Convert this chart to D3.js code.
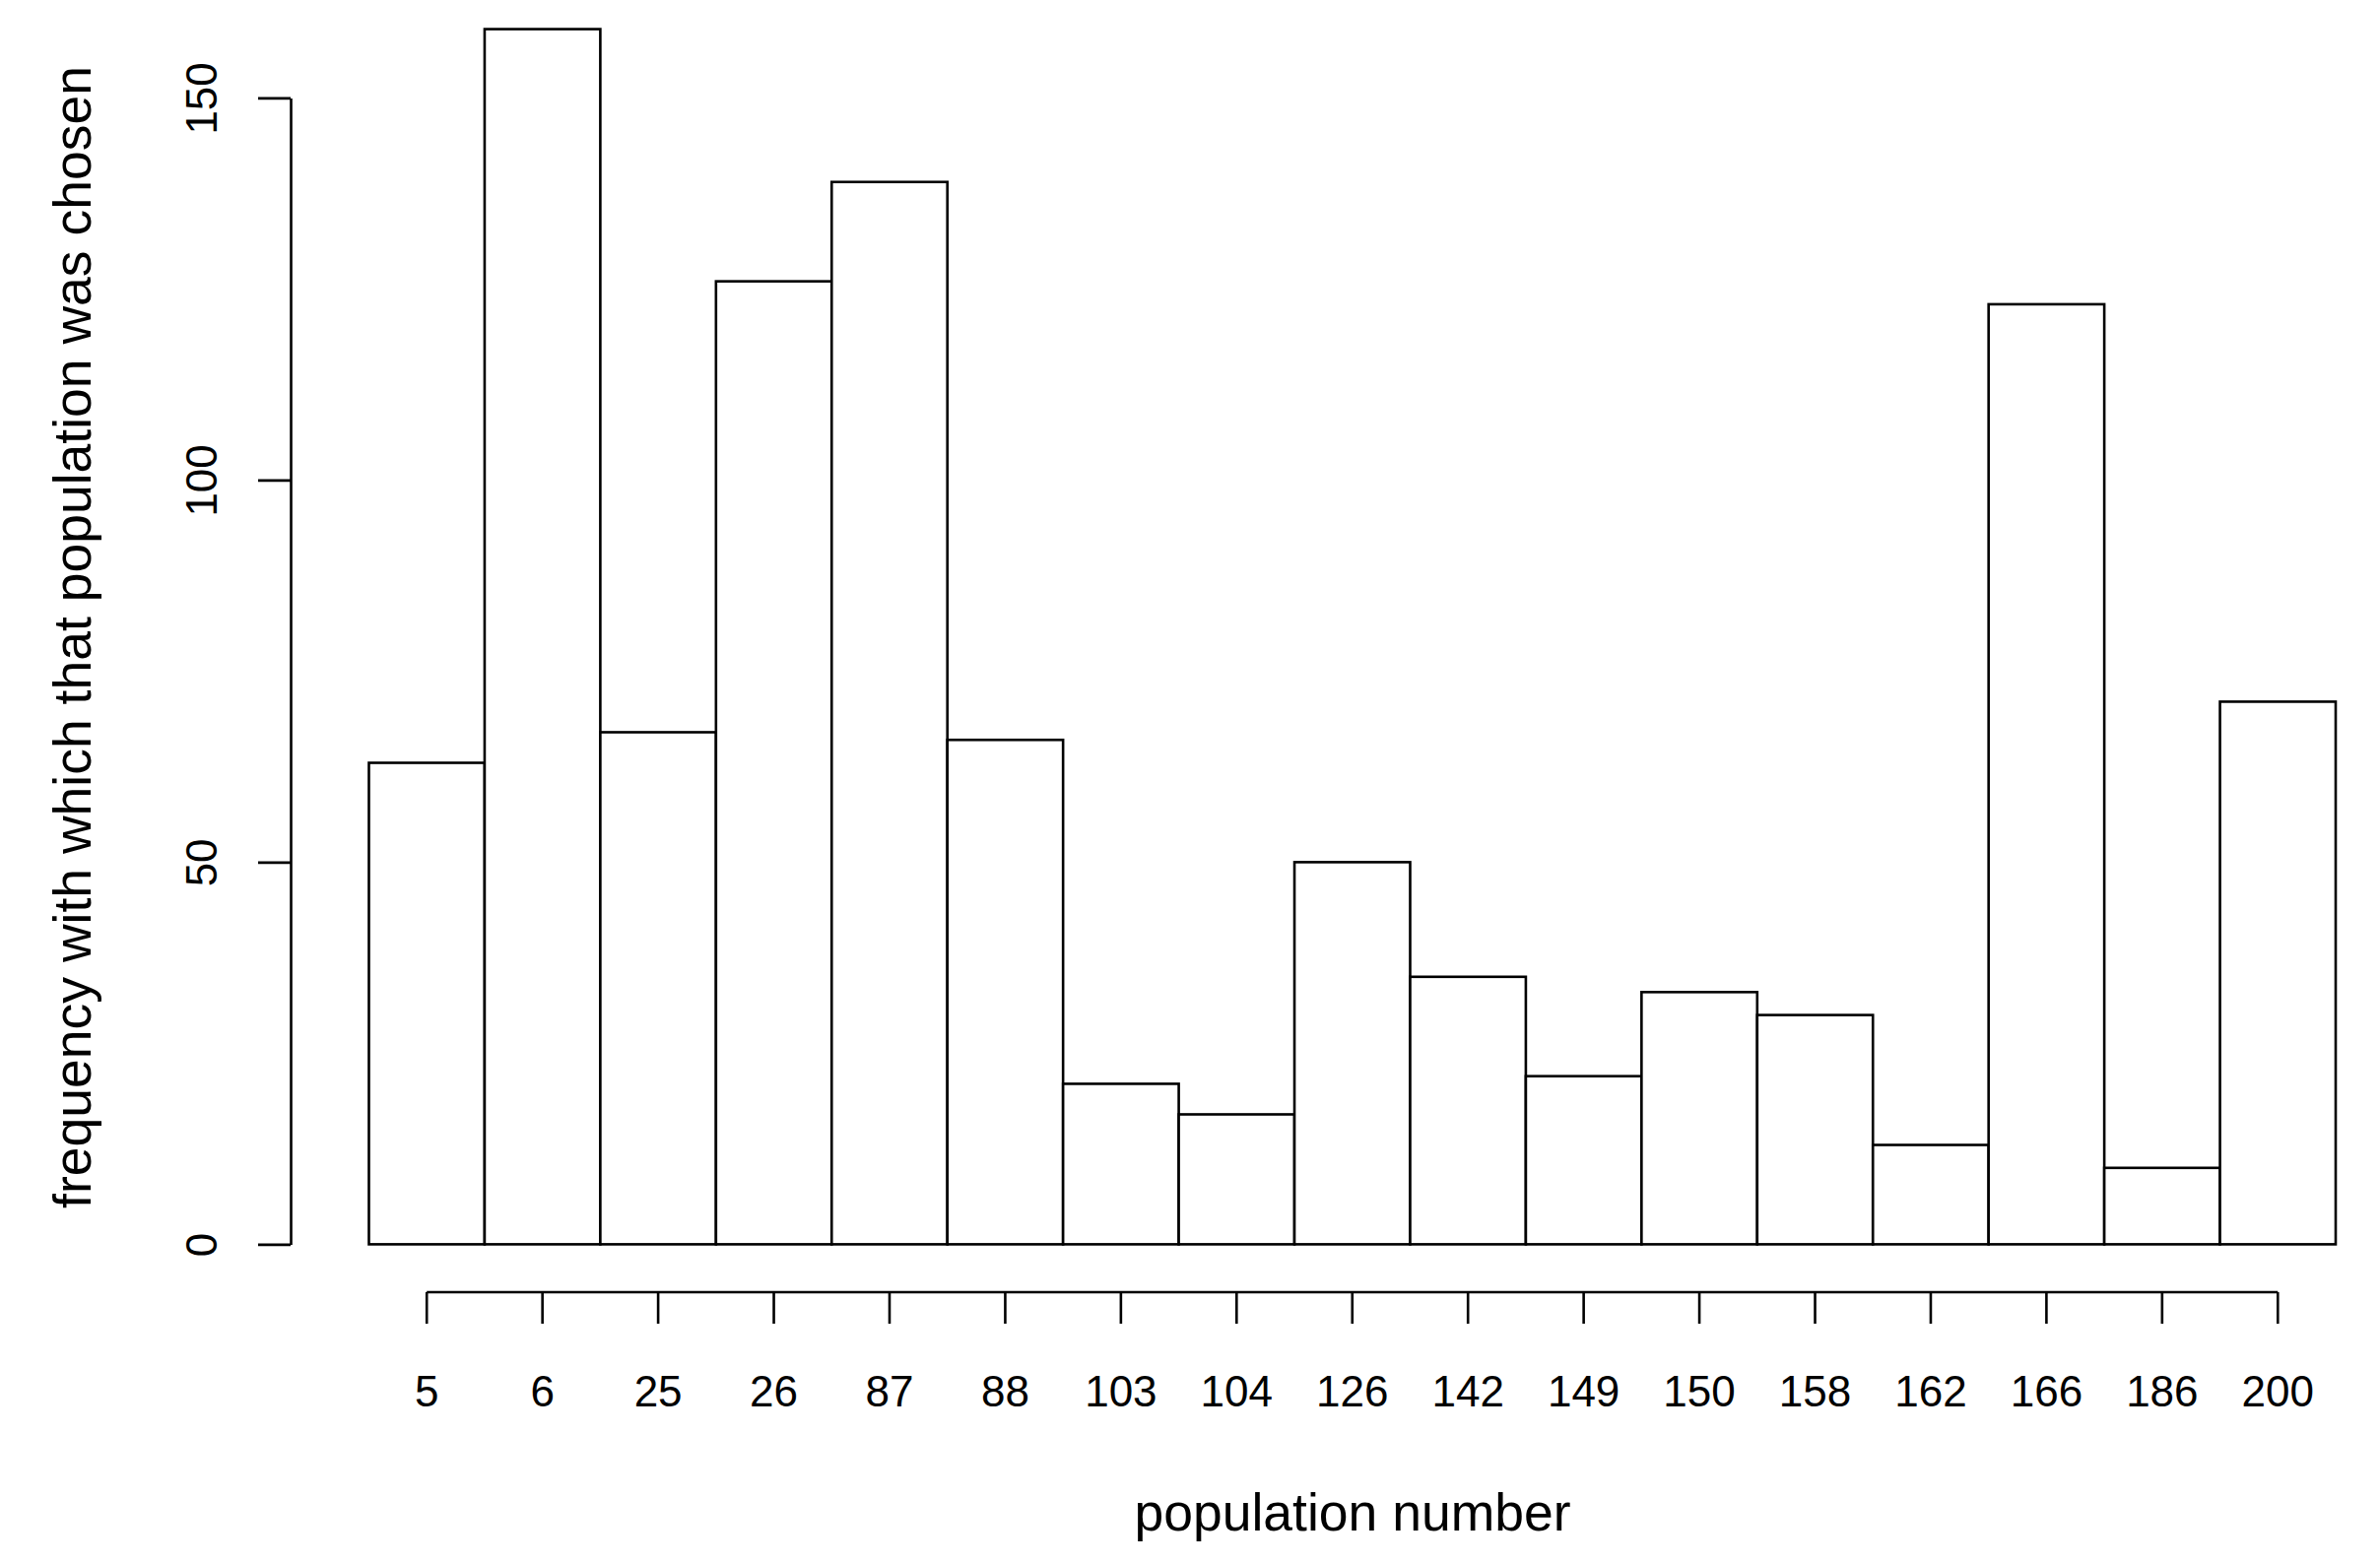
<!DOCTYPE html>
<html>
<head>
<meta charset="utf-8">
<script src="https://cdn.jsdelivr.net/npm/d3@7"></script>
<style>
  html, body { margin: 0; padding: 0; background: #fff; }
  svg { display: block; }
  text { font-family: "Liberation Sans", Arial, Helvetica, sans-serif; fill: #000; }
</style>
</head>
<body>
<svg id="chart" width="2416" height="1588"></svg>
<script>
const categories = ["5","6","25","26","87","88","103","104","126","142","149","150","158","162","166","186","200"];
const frequencies = [63,159,67,126,139,66,21,17,50,35,22,33,30,13,123,10,71];
const yTicks = [0,50,100,150];
const xTitle = "population number";
const yTitle = "frequency with which that population was chosen";

const W = 2416, H = 1588;
const svg = d3.select("#chart");
svg.append("rect").attr("width", W).attr("height", H).attr("fill", "#fff");

const x = d3.scaleBand().domain(categories).range([374.5, 2371]).padding(0);
const y = d3.scaleLinear().domain([0, 150]).range([1263.4, 99.4]);

const LW = 2.6;

// bars
svg.append("g").selectAll("rect")
  .data(categories.map((c, i) => ({c, v: frequencies[i]})))
  .join("rect")
  .attr("x", d => x(d.c))
  .attr("y", d => y(d.v))
  .attr("width", x.bandwidth())
  .attr("height", d => y(0) - y(d.v))
  .attr("fill", "#fff")
  .attr("stroke", "#000")
  .attr("stroke-width", LW);

// y axis
const yAxisX = 295;
const gy = svg.append("g").attr("transform", `translate(${yAxisX},0)`)
  .call(d3.axisLeft(y).tickValues(yTicks).tickSize(33).tickSizeOuter(0).tickFormat(d3.format("d")));
gy.select(".domain").attr("stroke", "#000").attr("stroke-width", LW);
gy.selectAll(".tick line").attr("stroke", "#000").attr("stroke-width", LW);
gy.selectAll(".tick text")
  .attr("x", null).attr("dy", null)
  .attr("transform", "translate(-75,0) rotate(-90)")
  .attr("text-anchor", "middle")
  .attr("font-size", 44)
  .attr("font-family", "Liberation Sans, Arial, sans-serif")
  .attr("fill", "#000");

// x axis
const xAxisY = 1312;
const xc = c => x(c) + x.bandwidth() / 2;
const gx = svg.append("g").attr("transform", `translate(0,${xAxisY})`)
  .call(d3.axisBottom(x).tickSize(32).tickSizeOuter(0));
gx.select(".domain").remove();
gx.append("line")
  .attr("x1", xc(categories[0])).attr("x2", xc(categories[categories.length - 1]))
  .attr("y1", 0).attr("y2", 0)
  .attr("stroke", "#000").attr("stroke-width", LW);
gx.selectAll(".tick line").attr("stroke", "#000").attr("stroke-width", LW);
gx.selectAll(".tick text")
  .attr("y", 116).attr("dy", null)
  .attr("font-size", 44)
  .attr("font-family", "Liberation Sans, Arial, sans-serif")
  .attr("fill", "#000");

// titles
svg.append("text")
  .attr("x", 1373).attr("y", 1554)
  .attr("text-anchor", "middle")
  .attr("font-size", 53.5)
  .text(xTitle);

svg.append("text")
  .attr("transform", `translate(91.5,647) rotate(-90)`)
  .attr("text-anchor", "middle")
  .attr("font-size", 53.5)
  .text(yTitle);
</script>
</body>
</html>
